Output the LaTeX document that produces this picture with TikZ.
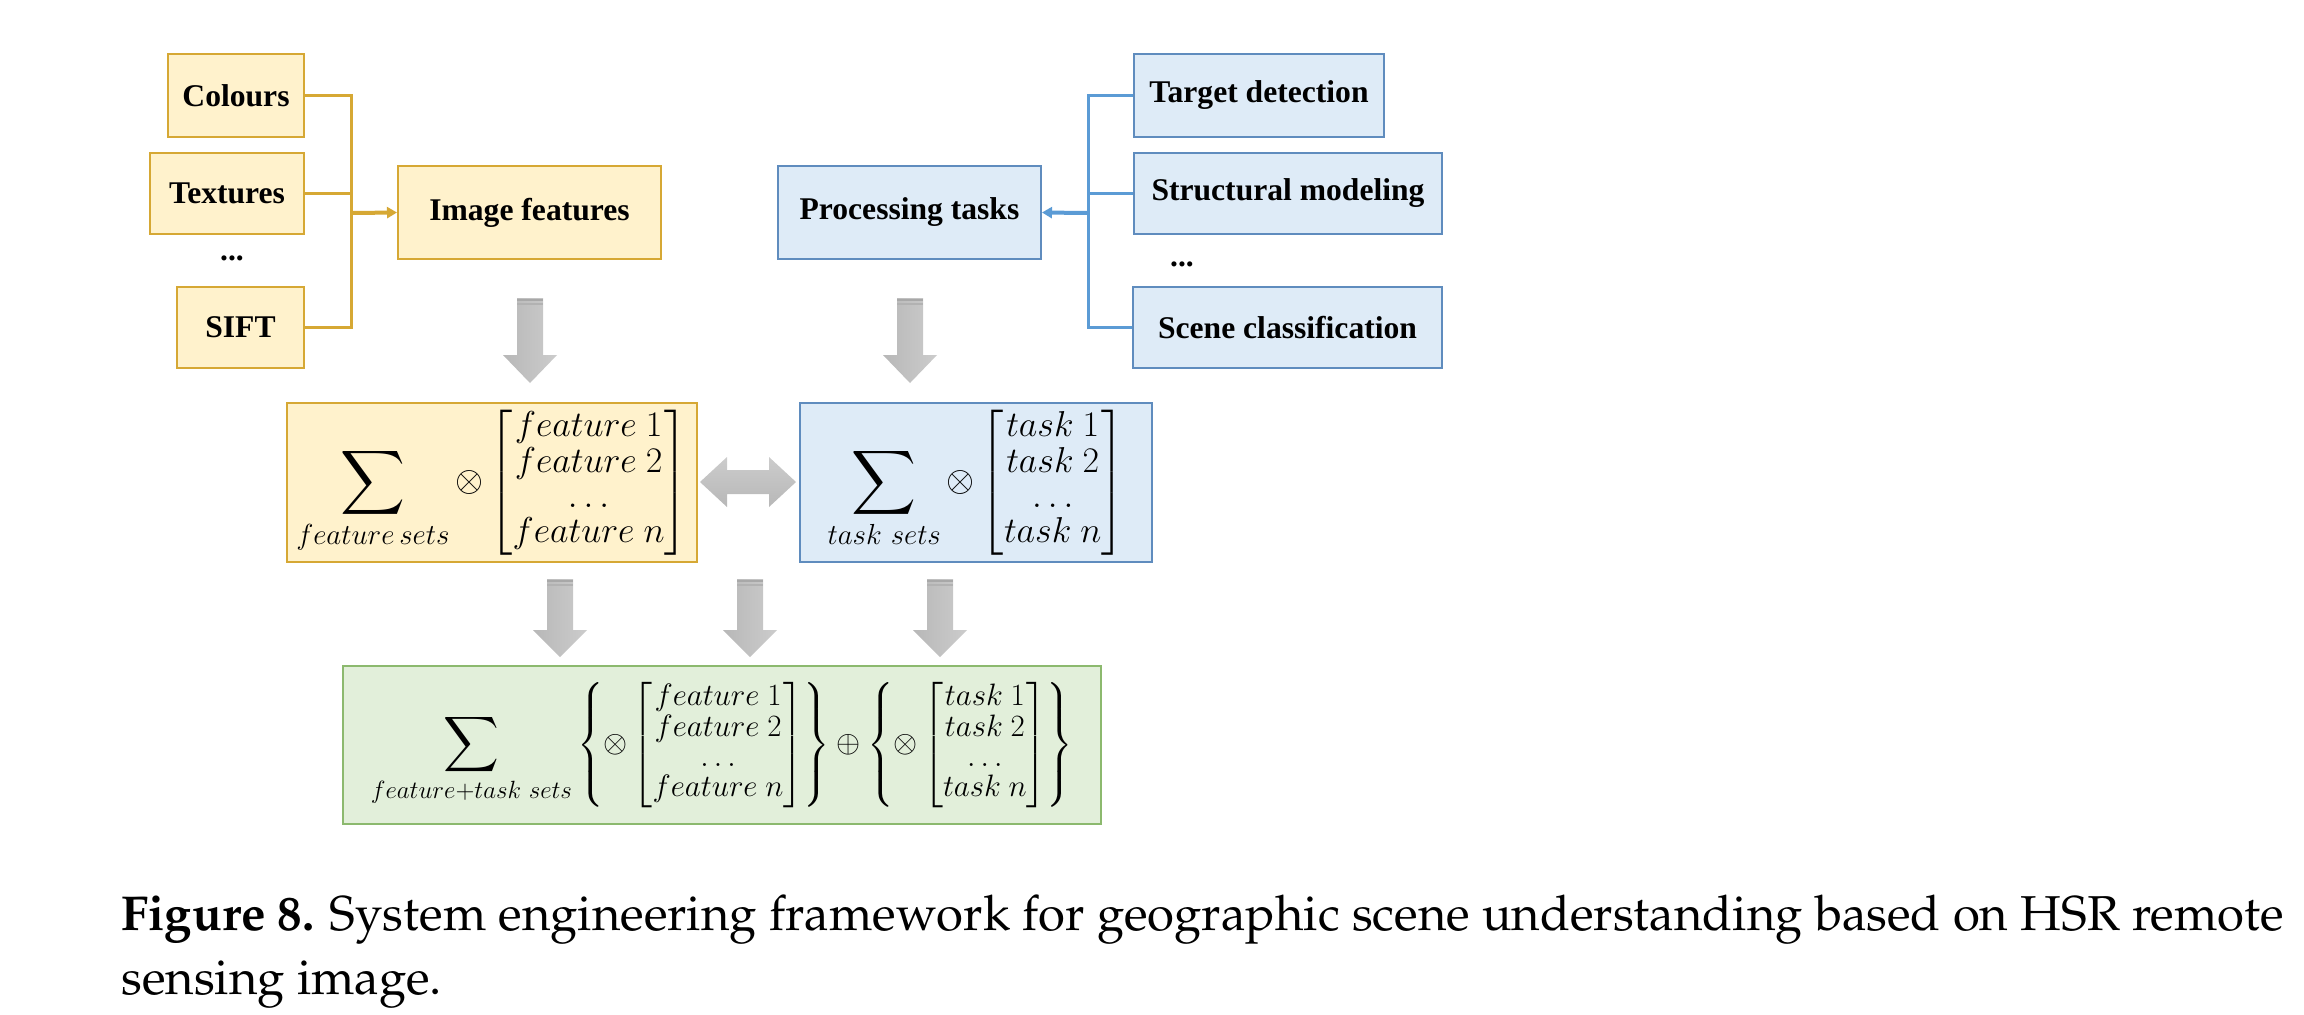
\documentclass[tikz,border=0pt]{standalone}
\usepackage{fix-cm}
\usepackage{amsmath}
\usepackage[no-math]{fontspec}
\setmainfont{Liberation Serif}
\usepackage{graphicx}
\usetikzlibrary{arrows.meta}
\DeclareMathSizes{18}{18}{14.5}{11}
\definecolor{yfill}{HTML}{FFF2CC}
\definecolor{yline}{RGB}{214,168,52}
\definecolor{bfill}{HTML}{DEEBF7}
\definecolor{bline}{RGB}{91,155,213}
\definecolor{bdraw}{RGB}{95,140,190}
\definecolor{gfill}{HTML}{E2EFDA}
\definecolor{gdraw}{RGB}{140,185,110}
\newcommand\mysum{\mathop{\vcenter{\hbox{\scalebox{1.3}{$\displaystyle\sum$}}}}\limits}
\tikzset{
  lab/.style={font=\fontsize{15.8}{19}\selectfont\bfseries, inner sep=0pt, align=center},
  ybox/.style={lab, draw=yline, fill=yfill, line width=1pt},
  bbox/.style={lab, draw=bdraw, fill=bfill, line width=1pt},
  mathbox/.style={font=\fontsize{18}{21.6}\selectfont\renewcommand\arraystretch{0.81}, inner sep=0pt, line width=1pt},
  yconn/.style={draw=yline, line width=1.5pt},
  bconn/.style={draw=bline, line width=1.5pt},
  tipstyle/.style={-{Triangle[length=5pt,width=5.5pt]}, line width=2pt},
  garrow/.style={left color=black!28, right color=black!20},
  garrowh/.style={top color=black!20, bottom color=black!28},
  capfont/.style={font=\fontencoding{T1}\fontfamily{ppl}\fontsize{24.5}{32}\selectfont, inner sep=0pt},
  pics/dnarr/.style 2 args={code={
    \path[garrow] (-13,0) -- (13,0) -- (13,#1) -- (27,#1) -- (0,#2) -- (-27,#1) -- (-13,#1) -- cycle;
    \draw[black!34, line width=1pt] (-13,2) -- (13,2);
    \draw[black!30, line width=0.6pt] (-13,6) -- (13,6);
  }}
}
\begin{document}
\begin{tikzpicture}[x=0.5pt, y=-0.5pt]
\useasboundingbox (0,0) rectangle (2304,1014);

% left (yellow) group
\node[ybox, minimum width=68pt, minimum height=41.5pt] (col) at (236,95.5) {Colours};
\node[ybox, minimum width=77pt, minimum height=40.5pt] (tex) at (227,193.5) {Textures};
\node[lab] (ldots) at (232,258) {...};
\node[ybox, minimum width=63.5pt, minimum height=40.5pt] (sift) at (240.5,327.5) {SIFT};
\node[ybox, minimum width=131.5pt, minimum height=46.5pt] (imgf) at (529.5,212.5) {Image features};

\coordinate (lj) at (351,213);
\draw[yconn] (col.east) -| (lj);
\draw[yconn] (sift.east) -| (lj);
\draw[yconn] (tex.east) -- (tex.east -| lj);
\draw[yconn, tipstyle] (lj) -- (imgf.west);

% right (blue) group
\node[bbox, minimum width=131.5pt, minimum height=46.5pt] (proc) at (909.5,212.5) {Processing tasks};
\node[bbox, minimum width=125pt, minimum height=41.5pt] (tgt) at (1259,95.5) {Target detection};
\node[bbox, minimum width=154pt, minimum height=40.5pt] (str) at (1288,193.5) {Structural modeling};
\node[lab] (rdots) at (1182,264) {...};
\node[bbox, minimum width=154.5pt, minimum height=40.5pt] (scn) at (1287.5,327.5) {Scene classification};

\coordinate (rj) at (1088,213);
\draw[bconn] (tgt.west) -| (rj);
\draw[bconn] (scn.west) -| (rj);
\draw[bconn] (str.west) -- (str.west -| rj);
\draw[bconn, tipstyle] (rj) -- (proc.east);

% formula boxes
\node[mathbox, draw=yline, fill=yfill, minimum width=205pt, minimum height=79.5pt] (fset) at (492,482.5)
  {$\displaystyle \mysum_{feature\,sets}\otimes\begin{bmatrix} feature\ 1\\ feature\ 2\\ \ldots\\ feature\ n\end{bmatrix}$};
\node[mathbox, draw=bdraw, fill=bfill, minimum width=176pt, minimum height=79.5pt] (tset) at (976,482.5)
  {$\displaystyle \mysum_{task\ sets}\otimes\begin{bmatrix} task\ 1\\ task\ 2\\ \ldots\\ task\ n\end{bmatrix}$};
\node[mathbox, draw=gdraw, fill=gfill, minimum width=379pt, minimum height=79pt] (comb) at (722,745)
  {\scalebox{0.86}{$\displaystyle \mysum_{feature+task\ sets}\left\{\otimes\begin{bmatrix} feature\ 1\\ feature\ 2\\ \ldots\\ feature\ n\end{bmatrix}\right\}\oplus\left\{\otimes\begin{bmatrix} task\ 1\\ task\ 2\\ \ldots\\ task\ n\end{bmatrix}\right\}$}};

% grey block arrows
\pic at (530,298) {dnarr={57}{85}};
\pic at (910,298) {dnarr={57}{85}};
\pic at (560,579) {dnarr={51}{78}};
\pic at (750,579) {dnarr={51}{78}};
\pic at (940,579) {dnarr={51}{78}};
\path[garrowh] (700,482) -- (727,457) -- (727,470) -- (769,470) -- (769,457) -- (796,482)
  -- (769,507) -- (769,494) -- (727,494) -- (727,507) -- cycle;

% caption
\node[capfont, anchor=base west] (cap1) at (121,930) {\textbf{Figure 8.} System engineering framework for geographic scene understanding based on HSR remote};
\node[capfont, anchor=base west] (cap2) at (121,994) {sensing image.};
\end{tikzpicture}
\end{document}
